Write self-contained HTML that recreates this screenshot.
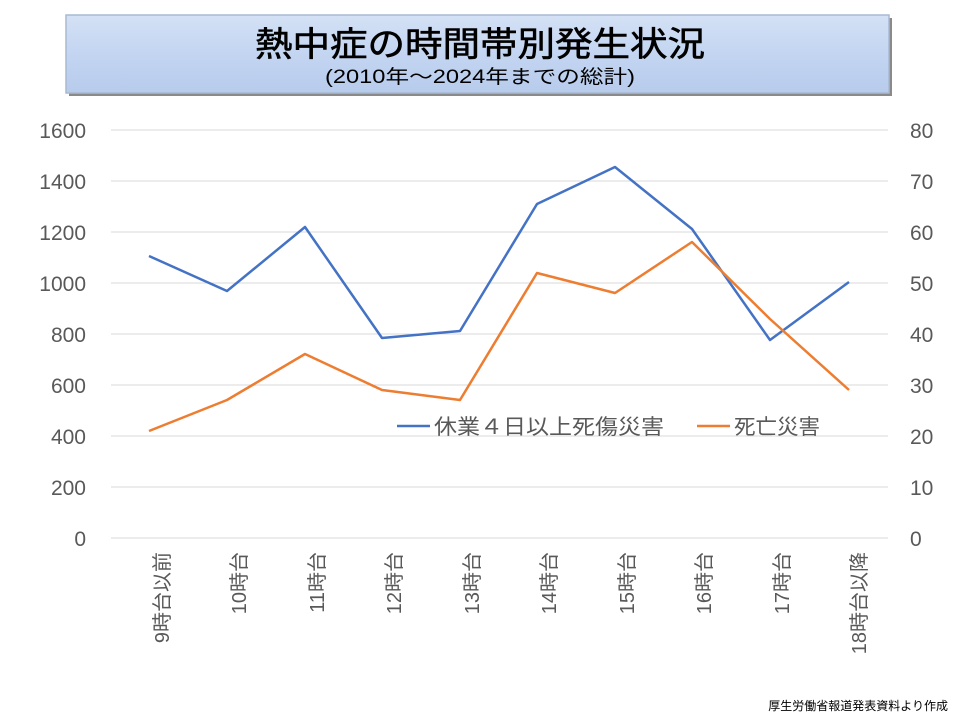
<!DOCTYPE html>
<html><head><meta charset="utf-8"><style>
body{margin:0;background:#fff}
svg{display:block}
text{font-family:"Liberation Sans","Noto Sans CJK JP",sans-serif}
</style></head><body>
<svg width="960" height="720" viewBox="0 0 960 720">
<defs>
<linearGradient id="g" x1="0" y1="0" x2="0" y2="1">
<stop offset="0" stop-color="#d4e1f5"/><stop offset="0.5" stop-color="#c3d5f1"/><stop offset="1" stop-color="#b7cbec"/>
</linearGradient>
</defs>
<rect x="69" y="18" width="823" height="78" fill="#8a8a8a"/>
<rect x="66" y="15" width="823" height="78" fill="url(#g)" stroke="#a9b9d2" stroke-width="1.5"/>
<text x="480" y="56" font-size="34" text-anchor="middle" textLength="450" lengthAdjust="spacingAndGlyphs" fill="#000" stroke="#000" stroke-width="0.6">熱中症の時間帯別発生状況</text>
<text x="480" y="83" font-size="19" text-anchor="middle" textLength="310" lengthAdjust="spacingAndGlyphs" fill="#000">(2010年～2024年までの総計)</text>
<g stroke="#d9d9d9" stroke-width="1">
<line x1="111" x2="888" y1="130" y2="130"/><line x1="111" x2="888" y1="181" y2="181"/>
<line x1="111" x2="888" y1="232" y2="232"/><line x1="111" x2="888" y1="283" y2="283"/>
<line x1="111" x2="888" y1="334" y2="334"/><line x1="111" x2="888" y1="385" y2="385"/>
<line x1="111" x2="888" y1="436" y2="436"/><line x1="111" x2="888" y1="487" y2="487"/>
<line x1="111" x2="888" y1="538" y2="538"/>
</g>
<g font-size="21" fill="#595959" text-anchor="end">
<text x="86" y="138">1600</text><text x="86" y="189">1400</text><text x="86" y="240">1200</text>
<text x="86" y="291">1000</text><text x="86" y="342">800</text><text x="86" y="393">600</text>
<text x="86" y="444">400</text><text x="86" y="495">200</text><text x="86" y="546">0</text>
</g>
<g font-size="21" fill="#595959" text-anchor="start">
<text x="910" y="138">80</text><text x="910" y="189">70</text><text x="910" y="240">60</text>
<text x="910" y="291">50</text><text x="910" y="342">40</text><text x="910" y="393">30</text>
<text x="910" y="444">20</text><text x="910" y="495">10</text><text x="910" y="546">0</text>
</g>
<g font-size="20" fill="#595959" text-anchor="end">
<text transform="translate(169,552) rotate(-90)">9時台以前</text>
<text transform="translate(246,552) rotate(-90)">10時台</text>
<text transform="translate(324,552) rotate(-90)">11時台</text>
<text transform="translate(401,552) rotate(-90)">12時台</text>
<text transform="translate(479,552) rotate(-90)">13時台</text>
<text transform="translate(556,552) rotate(-90)">14時台</text>
<text transform="translate(634,552) rotate(-90)">15時台</text>
<text transform="translate(711,552) rotate(-90)">16時台</text>
<text transform="translate(789,552) rotate(-90)">17時台</text>
<text transform="translate(866,552) rotate(-90)">18時台以降</text>
</g>
<polyline fill="none" stroke="#4472c4" stroke-width="2.5" stroke-linejoin="round" points="149,256 227,291 305,227 382,338 460,331 537,204 615,167 692,229 770,340 849,282"/>
<polyline fill="none" stroke="#ed7d31" stroke-width="2.5" stroke-linejoin="round" points="149,431 227,400 305,354 382,390 460,400 537,273 615,293 692,242 770,319 849,390"/>
<line x1="397" x2="430" y1="426" y2="426" stroke="#4472c4" stroke-width="2.5"/>
<text x="434" y="434" font-size="21" fill="#595959" textLength="230" lengthAdjust="spacingAndGlyphs">休業４日以上死傷災害</text>
<line x1="697" x2="730" y1="426" y2="426" stroke="#ed7d31" stroke-width="2.5"/>
<text x="734" y="434" font-size="21" fill="#595959" textLength="86" lengthAdjust="spacingAndGlyphs">死亡災害</text>
<text x="948" y="710" font-size="12" text-anchor="end" fill="#000">厚生労働省報道発表資料より作成</text>
</svg>
</body></html>
